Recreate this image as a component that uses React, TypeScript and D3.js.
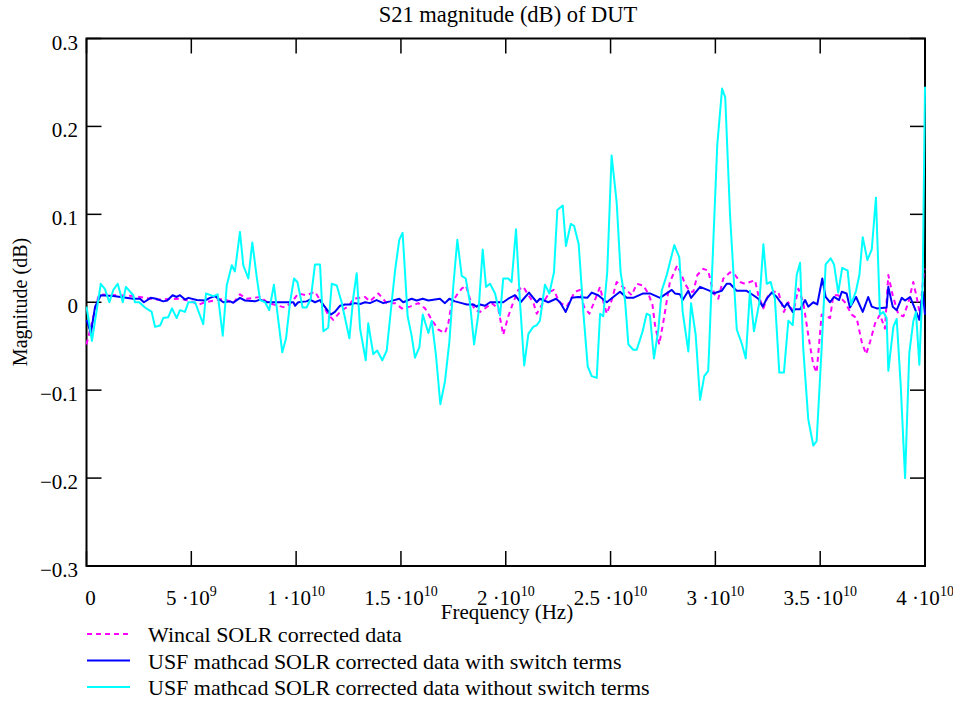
import React from "react";
import * as d3 from "d3";

// ---- Data (frequency in GHz, magnitude in dB) ----
const wincalF = [0, 0.56, 0.68, 2.31, 3.27, 4.46, 5.02, 5.33, 5.65, 6.21, 6.53, 7.0, 7.32, 7.64, 8.28, 8.67, 9.15, 9.47, 9.79, 10.1, 10.5, 10.9, 11.14, 11.53, 11.77, 12.17, 12.49, 12.73, 13.29, 13.52, 13.92, 14.32, 14.72, 15.04, 15.43, 15.83, 16.15, 16.47, 16.78, 17.1, 17.26, 17.42, 17.66, 17.9, 18.1, 18.29, 18.53, 18.77, 19.01, 19.33, 19.64, 19.88, 20.12, 20.36, 20.6, 20.84, 21.08, 21.31, 21.48, 21.79, 22.11, 22.3, 22.55, 22.91, 23.3, 23.54, 23.73, 23.99, 24.18, 24.5, 24.65, 24.82, 25.05, 25.29, 25.69, 26.01, 26.25, 26.56, 26.8, 27.0, 27.12, 27.32, 27.52, 27.83, 28.18, 28.39, 28.55, 28.79, 28.95, 29.14, 29.42, 29.66, 29.82, 29.98, 30.14, 30.38, 30.7, 30.94, 31.18, 31.41, 31.65, 31.89, 32.05, 32.29, 32.52, 32.76, 33.0, 33.27, 33.48, 33.72, 33.96, 34.19, 34.43, 34.67, 34.83, 35.07, 35.31, 35.47, 35.63, 35.86, 36.18, 36.5, 36.74, 36.98, 37.19, 37.38, 37.62, 37.85, 38.09, 38.25, 38.46, 38.73, 38.97, 39.21, 39.44, 39.6, 39.76, 39.93, 40.0];
const wincalDb = [-0.048, 0.006, 0.009, 0.007, 0.003, 0.004, 0.001, -0.003, 0.0, 0.0025, 0.004, -0.001, 0.009, 0.004, 0.006, -0.001, -0.004, -0.006, 0.0, 0.01, 0.008, 0.012, 0.0025, -0.014, -0.02, -0.009, -0.005, 0.004, 0.006, 0.001, 0.01, -0.001, -0.001, -0.007, -0.005, -0.001, -0.007, -0.02, -0.031, -0.035, -0.024, -0.001, 0.008, 0.0155, 0.019, 0.004, -0.009, -0.011, -0.007, -0.001, -0.007, -0.037, -0.016, 0.0, 0.014, 0.0175, 0.008, 0.0, -0.013, 0.0, 0.012, 0.014, 0.0, -0.005, 0.012, 0.014, -0.005, -0.013, -0.002, 0.0175, 0.001, -0.013, 0.002, 0.023, 0.0155, 0.008, 0.021, 0.019, 0.01, -0.003, -0.026, -0.048, -0.022, 0.023, 0.042, 0.031, 0.021, 0.012, 0.012, 0.031, 0.038, 0.036, 0.019, 0.008, 0.004, 0.027, 0.034, 0.031, 0.023, 0.021, 0.023, 0.025, 0.008, -0.007, 0.008, 0.012, 0.012, -0.011, 0.0, -0.011, 0.0155, 0.0, -0.037, -0.071, -0.08, -0.014, -0.016, -0.018, 0.008, 0.008, 0.0, -0.014, -0.018, -0.045, -0.059, -0.045, -0.024, -0.014, -0.03, 0.031, 0.008, -0.014, -0.016, 0.0, 0.023, 0.006, -0.014, 0.031, 0.038];

const usfSwF = [0, 0.21, 0.41, 0.68, 1.28, 2.23, 2.55, 2.74, 3.06, 3.32, 3.66, 3.85, 4.11, 4.3, 4.46, 4.7, 4.86, 5.26, 5.65, 5.89, 6.13, 6.29, 6.53, 6.85, 7.0, 7.32, 7.56, 8.04, 8.28, 8.6, 9.55, 9.87, 9.95, 10.1, 10.5, 10.66, 10.9, 11.14, 11.3, 11.65, 11.85, 12.09, 12.33, 12.57, 12.81, 13.05, 13.29, 13.52, 13.84, 14.16, 14.48, 14.92, 15.11, 15.51, 15.75, 16.04, 16.31, 16.86, 17.1, 17.31, 17.58, 17.9, 18.14, 18.45, 18.61, 18.77, 19.01, 19.25, 19.64, 19.88, 20.12, 20.44, 20.71, 21.11, 21.48, 21.63, 22.03, 22.4, 22.59, 22.86, 23.15, 23.46, 23.89, 24.1, 24.41, 24.82, 25.13, 25.45, 25.77, 26.08, 26.56, 26.88, 27.36, 27.92, 28.07, 28.31, 28.44, 28.71, 28.84, 29.27, 29.74, 29.9, 30.3, 30.54, 30.7, 31.02, 31.49, 31.81, 32.05, 32.26, 32.45, 32.69, 32.93, 33.29, 33.43, 33.69, 33.8, 34.04, 34.28, 34.43, 34.67, 34.86, 35.1, 35.26, 35.47, 35.66, 35.9, 36.03, 36.26, 36.42, 36.71, 37.03, 37.29, 37.46, 37.7, 38.17, 38.25, 38.46, 38.65, 38.89, 39.05, 39.29, 39.53, 39.73, 39.89, 40.0];
const usfSwDb = [-0.02, -0.035, -0.005, 0.008, 0.007, 0.004, 0.004, 0.0, 0.005, 0.004, 0.001, 0.002, 0.008, 0.006, 0.008, 0.003, 0.005, 0.0025, 0.002, 0.005, 0.007, 0.004, 0.0, 0.001, -0.0006, 0.005, 0.002, 0.001, 0.003, 0.0, 0.0, 0.0, -0.004, 0.0, 0.001, 0.003, 0.0, 0.0025, -0.003, -0.014, -0.011, -0.004, -0.0025, -0.0025, -0.001, -0.002, 0.0, -0.001, 0.0025, -0.001, 0.001, 0.004, 0.0, 0.004, 0.002, 0.004, 0.002, 0.004, -0.001, 0.004, 0.001, -0.001, -0.0025, -0.0025, -0.005, -0.0025, -0.004, 0.0, 0.0, 0.0, 0.004, 0.008, 0.0, 0.011, 0.0, 0.004, 0.0, 0.004, 0.0, -0.011, 0.005, 0.006, 0.005, 0.011, 0.008, 0.0, 0.006, 0.012, 0.005, 0.005, 0.01, 0.01, 0.005, 0.014, 0.01, 0.009, 0.0025, 0.013, 0.005, 0.0175, 0.013, 0.01, 0.013, 0.021, 0.021, 0.013, 0.013, 0.008, 0.004, -0.005, 0.004, 0.011, 0.006, -0.006, -0.001, -0.011, -0.008, -0.008, 0.0025, -0.005, 0.0, -0.0025, 0.027, 0.006, 0.0, 0.006, 0.0025, 0.012, 0.01, -0.006, 0.006, -0.011, 0.006, -0.005, -0.007, -0.006, 0.0175, -0.005, -0.009, 0.005, 0.002, 0.006, -0.008, -0.02, 0.012, -0.014];

const usfNoSwF = [0, 0.26, 0.68, 0.88, 1.09, 1.28, 1.49, 1.73, 1.88, 2.23, 2.31, 2.52, 2.79, 3.11, 3.27, 3.51, 3.66, 3.9, 4.08, 4.3, 4.46, 4.7, 4.86, 5.18, 5.57, 5.7, 6.05, 6.26, 6.5, 6.69, 6.93, 7.08, 7.32, 7.48, 7.72, 7.91, 8.12, 8.28, 8.52, 8.72, 8.94, 9.1, 9.34, 9.52, 9.71, 9.9, 10.06, 10.31, 10.5, 10.7, 10.9, 11.14, 11.3, 11.53, 11.7, 11.94, 12.17, 12.54, 12.73, 12.89, 13.05, 13.32, 13.44, 13.68, 13.87, 14.11, 14.32, 14.56, 14.72, 14.92, 15.08, 15.32, 15.51, 15.67, 15.88, 16.04, 16.31, 16.47, 16.67, 16.88, 17.1, 17.31, 17.5, 17.69, 17.9, 18.09, 18.29, 18.49, 18.69, 18.9, 19.06, 19.25, 19.49, 19.73, 19.88, 20.12, 20.28, 20.49, 20.68, 20.88, 21.08, 21.31, 21.48, 21.63, 21.87, 22.08, 22.3, 22.46, 22.72, 22.87, 23.1, 23.26, 23.48, 23.7, 23.91, 24.1, 24.34, 24.5, 24.65, 24.84, 25.05, 25.29, 25.48, 25.69, 25.85, 26.08, 26.25, 26.53, 26.72, 26.88, 27.07, 27.28, 27.44, 27.68, 28.04, 28.28, 28.44, 28.71, 28.84, 29.06, 29.27, 29.47, 29.66, 29.9, 30.09, 30.32, 30.47, 30.7, 31.02, 31.26, 31.45, 31.65, 31.84, 32.1, 32.29, 32.45, 32.64, 32.84, 33.05, 33.27, 33.48, 33.69, 33.88, 34.04, 34.19, 34.43, 34.67, 34.83, 35.07, 35.26, 35.5, 35.66, 35.86, 36.05, 36.31, 36.47, 36.71, 36.87, 37.03, 37.25, 37.46, 37.66, 37.85, 38.01, 38.17, 38.25, 38.49, 38.65, 38.84, 39.05, 39.25, 39.44, 39.57, 39.73, 39.89, 40.0];
const usfNoSwDb = [-0.005, -0.044, 0.021, 0.015, 0.0, 0.014, 0.021, 0.0, 0.0175, 0.008, 0.0, 0.0, -0.006, -0.011, -0.028, -0.0265, -0.018, -0.017, -0.007, -0.018, -0.009, -0.011, 0.0, 0.0, -0.025, 0.01, 0.007, 0.009, -0.038, 0.019, 0.042, 0.035, 0.08, 0.042, 0.027, 0.068, 0.029, 0.0025, 0.0, -0.009, 0.02, -0.011, -0.057, -0.041, 0.0, 0.027, 0.023, -0.006, -0.006, 0.004, 0.043, 0.043, -0.033, -0.029, 0.021, 0.019, 0.0, -0.041, 0.006, 0.033, -0.03, -0.066, -0.024, -0.059, -0.055, -0.066, -0.055, 0.0, 0.036, 0.071, 0.079, -0.016, -0.038, -0.063, -0.051, -0.014, -0.035, -0.021, -0.06, -0.116, -0.09, -0.045, 0.019, 0.071, 0.03, 0.027, 0.0, -0.048, -0.014, 0.06, 0.0175, 0.021, 0.01, -0.015, 0.027, 0.027, 0.023, 0.083, 0.0, -0.072, -0.036, -0.028, -0.026, -0.021, 0.02, 0.01, 0.034, 0.105, 0.11, 0.064, 0.089, 0.087, 0.066, -0.011, -0.073, -0.084, -0.086, -0.013, -0.016, 0.034, 0.167, 0.114, 0.034, 0.0025, -0.048, -0.054, -0.054, -0.033, -0.013, -0.015, -0.064, -0.031, 0.013, 0.031, 0.065, 0.051, -0.011, -0.056, -0.001, -0.037, -0.111, -0.084, -0.078, 0.068, 0.179, 0.243, 0.233, 0.099, -0.031, -0.047, -0.064, 0.013, -0.033, 0.0, 0.066, 0.021, 0.023, 0.004, -0.08, -0.08, -0.021, -0.026, 0.031, 0.045, -0.052, -0.133, -0.163, -0.158, -0.052, 0.043, 0.05, 0.043, 0.011, 0.039, 0.036, -0.003, 0.013, 0.031, 0.074, 0.048, 0.06, 0.119, -0.014, -0.011, -0.018, -0.078, -0.028, -0.019, -0.094, -0.2, -0.058, -0.022, -0.011, -0.071, 0.023, 0.245];

const yTicks = [0.3, 0.2, 0.1, 0, -0.1, -0.2, -0.3];
const yTickLabels = ["0.3", "0.2", "0.1", "0", "\u22120.1", "\u22120.2", "\u22120.3"];
const xTicks = [0, 5, 10, 15, 20, 25, 30, 35, 40];
const xTickMantissa = ["0", "5", "1", "1.5", "2", "2.5", "3", "3.5", "4"];
const xTickExponent = ["", "9", "10", "10", "10", "10", "10", "10", "10"];

const legendLabels = [
  "Wincal SOLR corrected data",
  "USF mathcad SOLR corrected data with switch terms",
  "USF mathcad SOLR corrected data without switch terms",
];

const FONT = "'Liberation Serif', 'Times New Roman', serif";

export default function App() {
  const W = 953;
  const H = 703;
  const left = 86.5, right = 925, top = 38.5, bottom = 566;

  const x = d3.scaleLinear().domain([0, 40]).range([left, right]);
  const y = d3.scaleLinear().domain([-0.3, 0.3]).range([bottom, top]);

  const mk = (fs: number[], vs: number[]) =>
    d3.line<number>().x((_, i) => x(fs[i])).y((v) => y(v))(vs) || "";

  const series = [
    { d: mk(wincalF, wincalDb), color: "#ff00ff", dash: "5,4" },
    { d: mk(usfSwF, usfSwDb), color: "#0000ff", dash: undefined },
    { d: mk(usfNoSwF, usfNoSwDb), color: "#00ffff", dash: undefined },
  ];

  const tickLen = 15;

  return (
    <svg width={W} height={H} style={{ position: "absolute", left: 0, top: 0, background: "#fff" }} fontFamily={FONT}>
      <rect x={0} y={0} width={W} height={H} fill="#fff" />
      <defs>
        <clipPath id="plotclip">
          <rect x={left - 1} y={top - 1} width={right - left + 2} height={bottom - top + 2} />
        </clipPath>
      </defs>

      {/* title */}
      <text x={508} y={22} textAnchor="middle" fontSize={22.5} fill="#000">
        S21 magnitude (dB) of DUT
      </text>

      {/* frame */}
      <rect x={left} y={top} width={right - left} height={bottom - top} fill="none" stroke="#000" strokeWidth={2} />

      {/* ticks */}
      {yTicks.map((t, i) => (
        <g key={"yt" + i}>
          <line x1={left} x2={left + tickLen} y1={y(t)} y2={y(t)} stroke="#000" strokeWidth={1.5} />
          <line x1={right} x2={right - tickLen} y1={y(t)} y2={y(t)} stroke="#000" strokeWidth={1.5} />
          <text x={78} y={y(t) + 11} textAnchor="end" fontSize={21} fill="#000">
            {yTickLabels[i]}
          </text>
        </g>
      ))}
      {xTicks.map((t, i) => (
        <g key={"xt" + i}>
          <line x1={x(t)} x2={x(t)} y1={top} y2={top + tickLen} stroke="#000" strokeWidth={1.5} />
          <line x1={x(t)} x2={x(t)} y1={bottom} y2={bottom - tickLen} stroke="#000" strokeWidth={1.5} />
          <text x={x(t) + (i === 0 ? 4 : 0)} y={605} textAnchor="middle" fontSize={21} fill="#000">
            {xTickExponent[i] === "" ? (
              xTickMantissa[i]
            ) : (
              <>
                <tspan>{xTickMantissa[i] + " \u00b710"}</tspan>
                <tspan fontSize={14} dy={-9}>{xTickExponent[i]}</tspan>
              </>
            )}
          </text>
        </g>
      ))}

      {/* series (drawn over the frame, as in the original) */}
      <g clipPath="url(#plotclip)">
        {series.map((s, i) => (
          <path key={i} d={s.d} fill="none" stroke={s.color} strokeWidth={2} strokeDasharray={s.dash} strokeLinejoin="round" />
        ))}
      </g>

      {/* axis titles */}
      <text x={507} y={619} textAnchor="middle" fontSize={21} fill="#000">
        Frequency (Hz)
      </text>
      <text transform="translate(27,302) rotate(-90)" textAnchor="middle" fontSize={20} fill="#000">
        Magnitude (dB)
      </text>

      {/* legend */}
      {legendLabels.map((lab, i) => {
        const ly = 634 + i * 26.5;
        return (
          <g key={"lg" + i}>
            <line x1={87} x2={130} y1={ly} y2={ly} stroke={series[i].color} strokeWidth={2} strokeDasharray={series[i].dash} />
            <text x={148} y={ly + 8} fontSize={22} fill="#000">
              {lab}
            </text>
          </g>
        );
      })}
    </svg>
  );
}
